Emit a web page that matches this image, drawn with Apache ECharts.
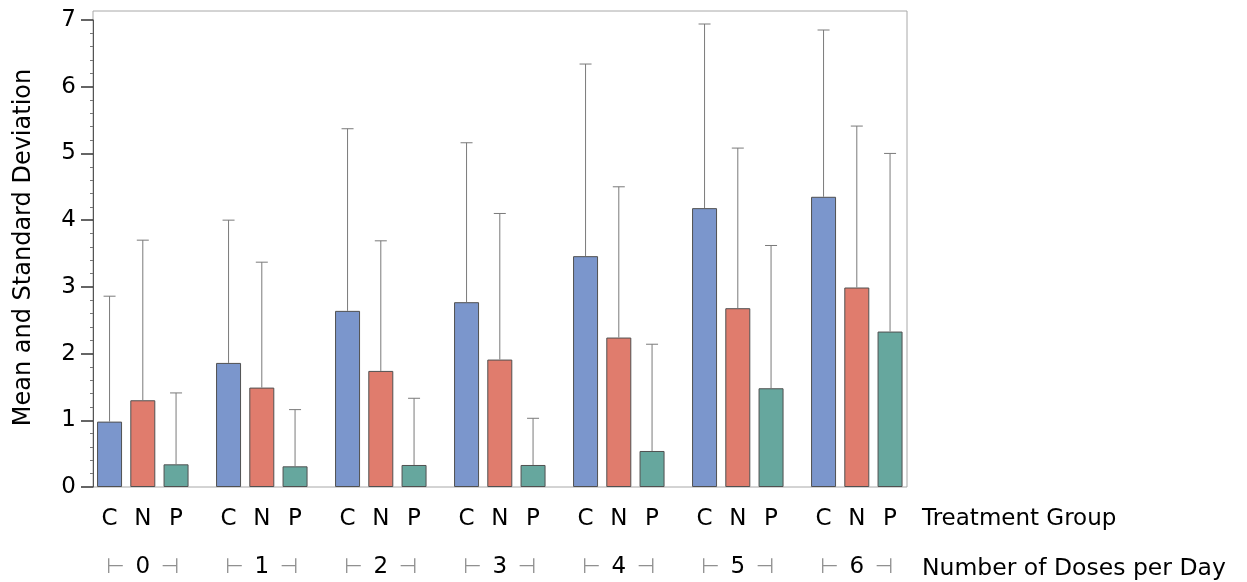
<!DOCTYPE html>
<html>
<head>
<meta charset="utf-8">
<script src="https://cdn.jsdelivr.net/npm/echarts@6/dist/echarts.min.js"></script>
<style>html,body{margin:0;padding:0;background:#fff}#c{width:1247px;height:582px}</style>
</head>
<body>
<div id="c"></div>
<script>
// ---- data ----
const doses = ['0', '1', '2', '3', '4', '5', '6'];
const groups = ['C', 'N', 'P'];
const meanC = [0.98, 1.86, 2.64, 2.77, 3.46, 4.18, 4.35];
const sdC   = [1.88, 2.14, 2.73, 2.39, 2.88, 2.76, 2.50];
const meanN = [1.30, 1.49, 1.74, 1.91, 2.24, 2.68, 2.99];
const sdN   = [2.40, 1.88, 1.95, 2.19, 2.26, 2.40, 2.42];
const meanP = [0.34, 0.31, 0.33, 0.33, 0.54, 1.48, 2.33];
const sdP   = [1.07, 0.85, 1.00, 0.70, 1.60, 2.14, 2.67];
const yTicks = [0, 1, 2, 3, 4, 5, 6, 7];

const colors = ['#7b96cc', '#e07c6d', '#66a79e'];
const FONT = '"DejaVu Sans", sans-serif';
const BAR_W = 25, BAR_GAP = 0.33;
const means = [meanC, meanN, meanP];
const sds = [sdC, sdN, sdP];

const chart = echarts.init(document.getElementById('c'), null, {renderer: 'canvas'});

const series = [];
groups.forEach((g, s) => {
  series.push({
    type: 'bar', name: g, xAxisIndex: 0, yAxisIndex: 0,
    data: means[s], barWidth: BAR_W, barGap: (BAR_GAP * 100) + '%',
    itemStyle: {color: colors[s], borderColor: '#505050', borderWidth: 1},
    label: {show: true, position: 'bottom', distance: 21, formatter: g,
            color: '#000', fontSize: 23, fontFamily: FONT},
    emphasis: {disabled: true}, z: 2
  });
});
groups.forEach((g, s) => {
  series.push({
    type: 'custom', name: g + ' SD', xAxisIndex: 0, yAxisIndex: 0, z: 3,
    data: doses.map((d, i) => [i, means[s][i], means[s][i] + sds[s][i]]),
    renderItem: function (params, api) {
      const step = BAR_W * (1 + BAR_GAP);
      const off = (s - 1) * step;
      const p0 = api.coord([api.value(0), api.value(1)]);
      const p1 = api.coord([api.value(0), api.value(2)]);
      const x = p0[0] + off;
      const st = {stroke: '#7a7a7a', lineWidth: 1};
      return {type: 'group', children: [
        {type: 'line', shape: {x1: x, y1: p0[1], x2: x, y2: p1[1]}, style: st},
        {type: 'line', shape: {x1: x - 6, y1: p1[1], x2: x + 6, y2: p1[1]}, style: st}
      ]};
    },
    silent: true
  });
});

const option = {
  backgroundColor: '#fff',
  animation: false,
  textStyle: {fontFamily: FONT},
  title: [
    {text: 'Treatment Group', left: 922, top: 508, padding: 0,
     textStyle: {fontSize: 23, fontWeight: 'normal', color: '#000', fontFamily: FONT}},
    {text: 'Number of Doses per Day', left: 922, top: 557, padding: 0,
     textStyle: {fontSize: 23.5, fontWeight: 'normal', color: '#000', fontFamily: FONT}}
  ],
  grid: [
    {left: 83.3, right: 330.7, top: 20, bottom: 95, containLabel: false},
    {left: 93, right: 340, top: 11, bottom: 95, show: true, borderColor: '#a8a8a8', borderWidth: 1, z: 0}
  ],
  xAxis: [
    {type: 'category', gridIndex: 0, data: doses,
     axisLine: {show: false}, axisTick: {show: false}, splitLine: {show: false},
     axisLabel: {margin: 69, interval: 0,
       formatter: v => '{t|⊢}{n|' + v + '}{t|⊣}',
       rich: {
         t: {color: '#909090', fontSize: 21, fontFamily: FONT},
         n: {color: '#000', fontSize: 23, fontFamily: FONT, padding: [0, 11, 0, 11]}
       }}},
    {type: 'value', gridIndex: 1, show: false}
  ],
  yAxis: [
    {type: 'value', gridIndex: 0, min: 0, max: 7, interval: 1, offset: -9.7,
     axisLine: {show: true, lineStyle: {color: '#555', width: 1}},
     axisTick: {show: true, length: 12, lineStyle: {color: '#333', width: 1.5}},
     minorTick: {show: true, splitNumber: 5, length: 3, lineStyle: {color: '#777'}},
     splitLine: {show: false},
     axisLabel: {margin: 17, fontSize: 23, color: '#000', fontFamily: FONT,
                 formatter: v => yTicks.includes(v) ? String(v) : ''},
     name: 'Mean and Standard Deviation', nameLocation: 'middle', nameGap: 57,
     nameTextStyle: {fontSize: 24, color: '#000', fontFamily: FONT, padding: [0, 0, 0, 12]}},
    {type: 'value', gridIndex: 1, show: false}
  ],
  series: series
};
chart.setOption(option);
</script>
</body>
</html>
